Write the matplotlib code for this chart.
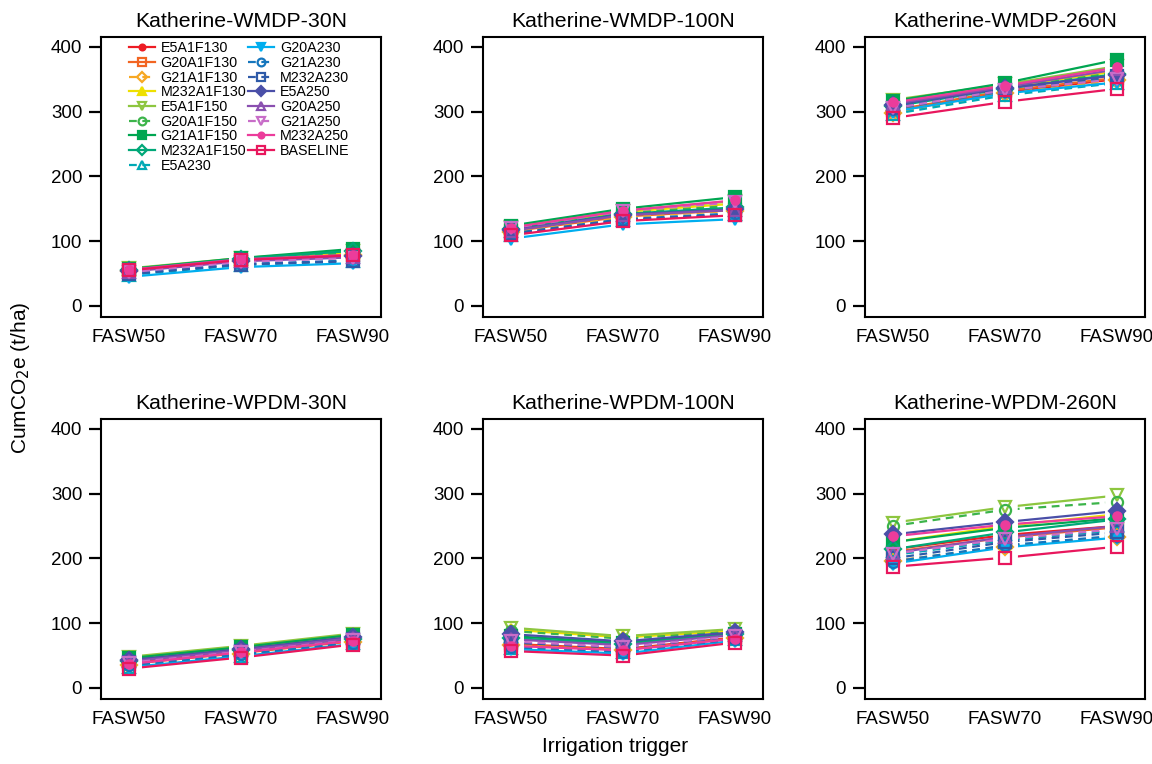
import numpy as np
import matplotlib
matplotlib.use("Agg")
import matplotlib.pyplot as plt

plt.rcParams['font.family'] = ['Liberation Sans', 'DejaVu Sans']

# x categories
triggers = ['FASW50', 'FASW70', 'FASW90']

# series names, in legend order
series = ['E5A1F130', 'G20A1F130', 'G21A1F130', 'M232A1F130', 'E5A1F150',
          'G20A1F150', 'G21A1F150', 'M232A1F150', 'E5A230', 'G20A230',
          'G21A230', 'M232A230', 'E5A250', 'G20A250', 'G21A250',
          'M232A250', 'BASELINE']

panel_titles = ['Katherine-WMDP-30N', 'Katherine-WMDP-100N', 'Katherine-WMDP-260N',
                'Katherine-WPDM-30N', 'Katherine-WPDM-100N', 'Katherine-WPDM-260N']

# CumCO2e (t/ha) per series (rows) at FASW50/70/90 (cols)
wmdp_30n = [[56, 72, 80], [55, 71, 79], [54, 70, 78], [57, 73, 83], [58, 74, 85],
            [55, 72, 82], [57, 74, 88], [56, 73, 85], [48, 63, 70], [45, 60, 66],
            [50, 65, 70], [49, 64, 69], [54, 70, 77], [53, 69, 75], [52, 68, 74],
            [56, 72, 79], [55, 71, 78]]
wmdp_100n = [[116, 139, 150], [115, 138, 148], [114, 137, 147], [120, 145, 158], [122, 147, 162],
             [118, 143, 155], [124, 150, 168], [119, 142, 152], [110, 132, 142], [104, 126, 134],
             [112, 134, 143], [111, 133, 141], [117, 141, 149], [116, 140, 148], [120, 146, 160],
             [121, 147, 163], [109, 131, 140]]
wmdp_260n = [[300, 330, 350], [302, 332, 352], [298, 328, 348], [312, 338, 362], [318, 342, 370],
             [310, 336, 360], [316, 344, 380], [308, 335, 358], [296, 325, 344], [300, 328, 345],
             [304, 332, 352], [306, 334, 355], [310, 336, 356], [312, 338, 365], [305, 333, 350],
             [314, 340, 368], [290, 315, 335]]
wpdm_30n = [[38, 55, 73], [37, 54, 72], [36, 53, 71], [45, 62, 80], [48, 65, 84],
            [44, 60, 78], [46, 63, 82], [42, 58, 76], [33, 50, 69], [32, 49, 68],
            [35, 52, 70], [40, 57, 75], [43, 60, 79], [41, 58, 77], [39, 56, 74],
            [37, 55, 73], [30, 47, 67]]
wpdm_100n = [[68, 60, 78], [67, 59, 77], [66, 58, 77], [90, 78, 88], [93, 80, 91],
             [88, 76, 87], [80, 70, 84], [77, 68, 83], [62, 55, 75], [60, 53, 73],
             [63, 56, 75], [70, 62, 79], [83, 72, 86], [75, 66, 82], [72, 63, 80],
             [65, 58, 76], [57, 50, 70]]
wpdm_260n = [[214, 236, 250], [210, 232, 248], [196, 218, 233], [225, 250, 268], [255, 279, 297],
             [250, 275, 287], [225, 247, 262], [214, 240, 260], [205, 228, 243], [192, 217, 232],
             [195, 220, 235], [200, 225, 240], [237, 256, 273], [208, 233, 250], [207, 230, 245],
             [234, 252, 265], [187, 201, 218]]

panels = [wmdp_30n, wmdp_100n, wmdp_260n, wpdm_30n, wpdm_100n, wpdm_260n]

colors = ['#ed1c24', '#f26522', '#f7a823', '#eee000', '#8dc63f', '#3cb44a',
          '#00a651', '#00a878', '#00a9b5', '#00aeef', '#1576bd', '#2e5aa8',
          '#4a4fa8', '#8a4fb0', '#c86dc8', '#ec3c9b', '#e8175d']
markers = ['o', 's', 'D', '^', 'v', 'o', 's', 'D', '^', 'v', 'o', 's', 'D', '^', 'v', 'o', 's']
filled = [True, False, False, True, False, False, True, False, False, True,
          False, False, True, False, False, True, False]
dashed = [False, False, True, False, False, True, False, False, True, False,
          True, True, False, False, True, False, False]

fig = plt.figure(figsize=(11.52, 7.64), dpi=100)
W, H = 1152, 764
lefts = [101, 483, 865]
tops = [37, 419]
aw, ah = 280, 280

x = np.arange(len(triggers))
for p, data in enumerate(panels):
    r, c = divmod(p, 3)
    ax = fig.add_axes([lefts[c] / W, 1 - (tops[r] + ah) / H, aw / W, ah / H])
    data = np.array(data)
    for i, name in enumerate(series):
        ls = (0, (3.5, 2.5)) if dashed[i] else '-'
        mfc = colors[i] if filled[i] else 'none'
        ms = 6 if markers[i] == 'o' and filled[i] else 8
        ax.plot(x, data[i], color=colors[i], lw=1.6, ls=ls, marker=markers[i],
                ms=ms, mfc=mfc, mec=colors[i], mew=1.6, zorder=2, label=name)
        # white halo breaks the lines near the points
        ax.plot(x, data[i], ls='none', marker='s', ms=17, mfc='white', mec='none', zorder=3)
    for i, name in enumerate(series):
        mfc = colors[i] if filled[i] else 'none'
        ms = 6 if markers[i] == 'o' and filled[i] else 8
        ax.plot(x, data[i], ls='none', marker=markers[i], ms=ms, mfc=mfc,
                mec=colors[i], mew=1.6, zorder=4)

    ax.set_xlim(-0.25, 2.25)
    ax.set_ylim(-17, 415)
    ax.set_xticks(x)
    ax.set_xticklabels(triggers)
    ax.set_yticks([0, 100, 200, 300, 400])
    ax.tick_params(axis='x', length=0, pad=9, labelsize=13.5)
    ax.tick_params(axis='y', length=8.5, width=1.6, pad=5, labelsize=13.5)
    for s in ax.spines.values():
        s.set_linewidth(1.5)
    ax.set_title(panel_titles[p], fontsize=15.3, pad=7)

    if p == 0:
        ax.legend(loc='upper left', bbox_to_anchor=(0.1, 0.985), ncol=2, frameon=False,
                  fontsize=10.3, markerscale=0.7, handlelength=1.8, handletextpad=0.4,
                  columnspacing=0.15, labelspacing=0.05, borderpad=0, borderaxespad=0)

fig.text(21 / W, 1 - 378 / H, 'CumCO$_2$e (t/ha)', rotation=90, ha='center', va='center', fontsize=15)
fig.text(615 / W, 1 - 747 / H, 'Irrigation trigger', ha='center', va='center', fontsize=15)

fig.savefig('out.png', dpi=100)
